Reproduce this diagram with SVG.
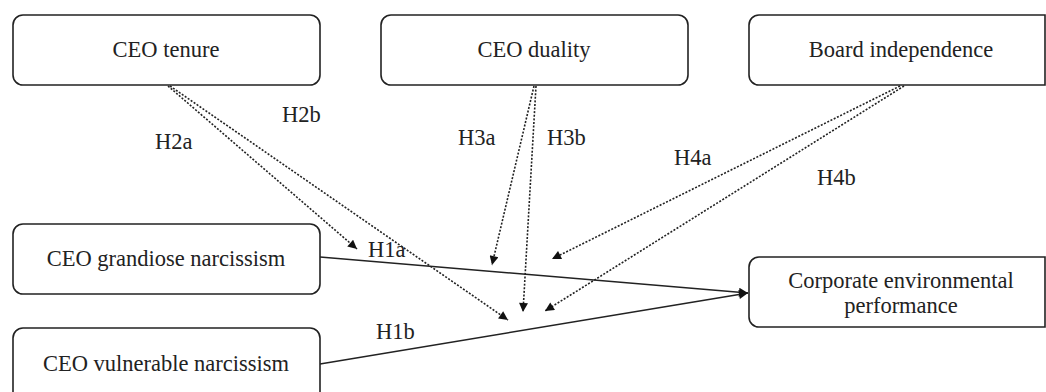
<svg xmlns="http://www.w3.org/2000/svg" width="1046" height="392" viewBox="0 0 1046 392">
<style>
.box{fill:#fff;stroke:#222;stroke-width:1.6}
.t{font-family:"Liberation Serif","Times New Roman","DejaVu Serif",serif;font-size:22.5px;fill:#222}
.c{text-anchor:middle}
.dash{fill:none;stroke:#222;stroke-width:1.6;stroke-dasharray:2 1.6}
.solid{fill:none;stroke:#222;stroke-width:1.6}
</style>
<defs>
<marker id="ah" viewBox="0 0 10 10" refX="10" refY="5" markerWidth="11" markerHeight="9" markerUnits="userSpaceOnUse" orient="auto">
<path d="M0,0 L10,5 L0,10 z" fill="#111"/>
</marker>
</defs>
<rect width="1046" height="392" fill="#fff"/>
<g id="connectors">
<line class="dash" x1="168" y1="86" x2="357" y2="249" marker-end="url(#ah)"/>
<line class="dash" x1="170" y1="86" x2="508" y2="320" marker-end="url(#ah)"/>
<line class="dash" x1="534" y1="86" x2="492" y2="265" marker-end="url(#ah)"/>
<line class="dash" x1="536" y1="86" x2="523" y2="312" marker-end="url(#ah)"/>
<line class="dash" x1="900" y1="86" x2="552" y2="259" marker-end="url(#ah)"/>
<line class="dash" x1="904" y1="86" x2="545" y2="311" marker-end="url(#ah)"/>
<line class="solid" x1="320" y1="257" x2="748" y2="293" marker-end="url(#ah)"/>
<line class="solid" x1="320" y1="364" x2="748" y2="293" marker-end="url(#ah)"/>
<text class="t" x="155" y="149">H2a</text>
<text class="t" x="282" y="122">H2b</text>
<text class="t" x="368" y="257">H1a</text>
<text class="t" x="376" y="339">H1b</text>
<text class="t" x="458" y="145">H3a</text>
<text class="t" x="547" y="145">H3b</text>
<text class="t" x="674" y="165">H4a</text>
<text class="t" x="817" y="185">H4b</text>
</g>
<g id="ceo-tenure">
<rect class="box" x="13" y="15" width="307" height="70" rx="10"/>
<text class="t c" x="166" y="57">CEO tenure</text>
</g>
<g id="ceo-duality">
<rect class="box" x="381" y="15" width="307" height="70" rx="10"/>
<text class="t c" x="534" y="57">CEO duality</text>
</g>
<g id="board-independence">
<path class="box" d="M759,15 H1045 V85 H759 A10,10 0 0 1 749,75 V25 A10,10 0 0 1 759,15 z"/>
<text class="t c" x="901" y="57">Board independence</text>
</g>
<g id="ceo-grandiose">
<rect class="box" x="13" y="224" width="307" height="70" rx="10"/>
<text class="t c" x="166" y="266">CEO grandiose narcissism</text>
</g>
<g id="ceo-vulnerable">
<rect class="box" x="13" y="328" width="307" height="80" rx="10"/>
<text class="t c" x="166" y="371">CEO vulnerable narcissism</text>
</g>
<g id="corporate-env">
<path class="box" d="M759,257 H1045 V327 H759 A10,10 0 0 1 749,317 V267 A10,10 0 0 1 759,257 z"/>
<text class="t c" x="901" y="288">Corporate environmental</text>
<text class="t c" x="901" y="313">performance</text>
</g>
</svg>
